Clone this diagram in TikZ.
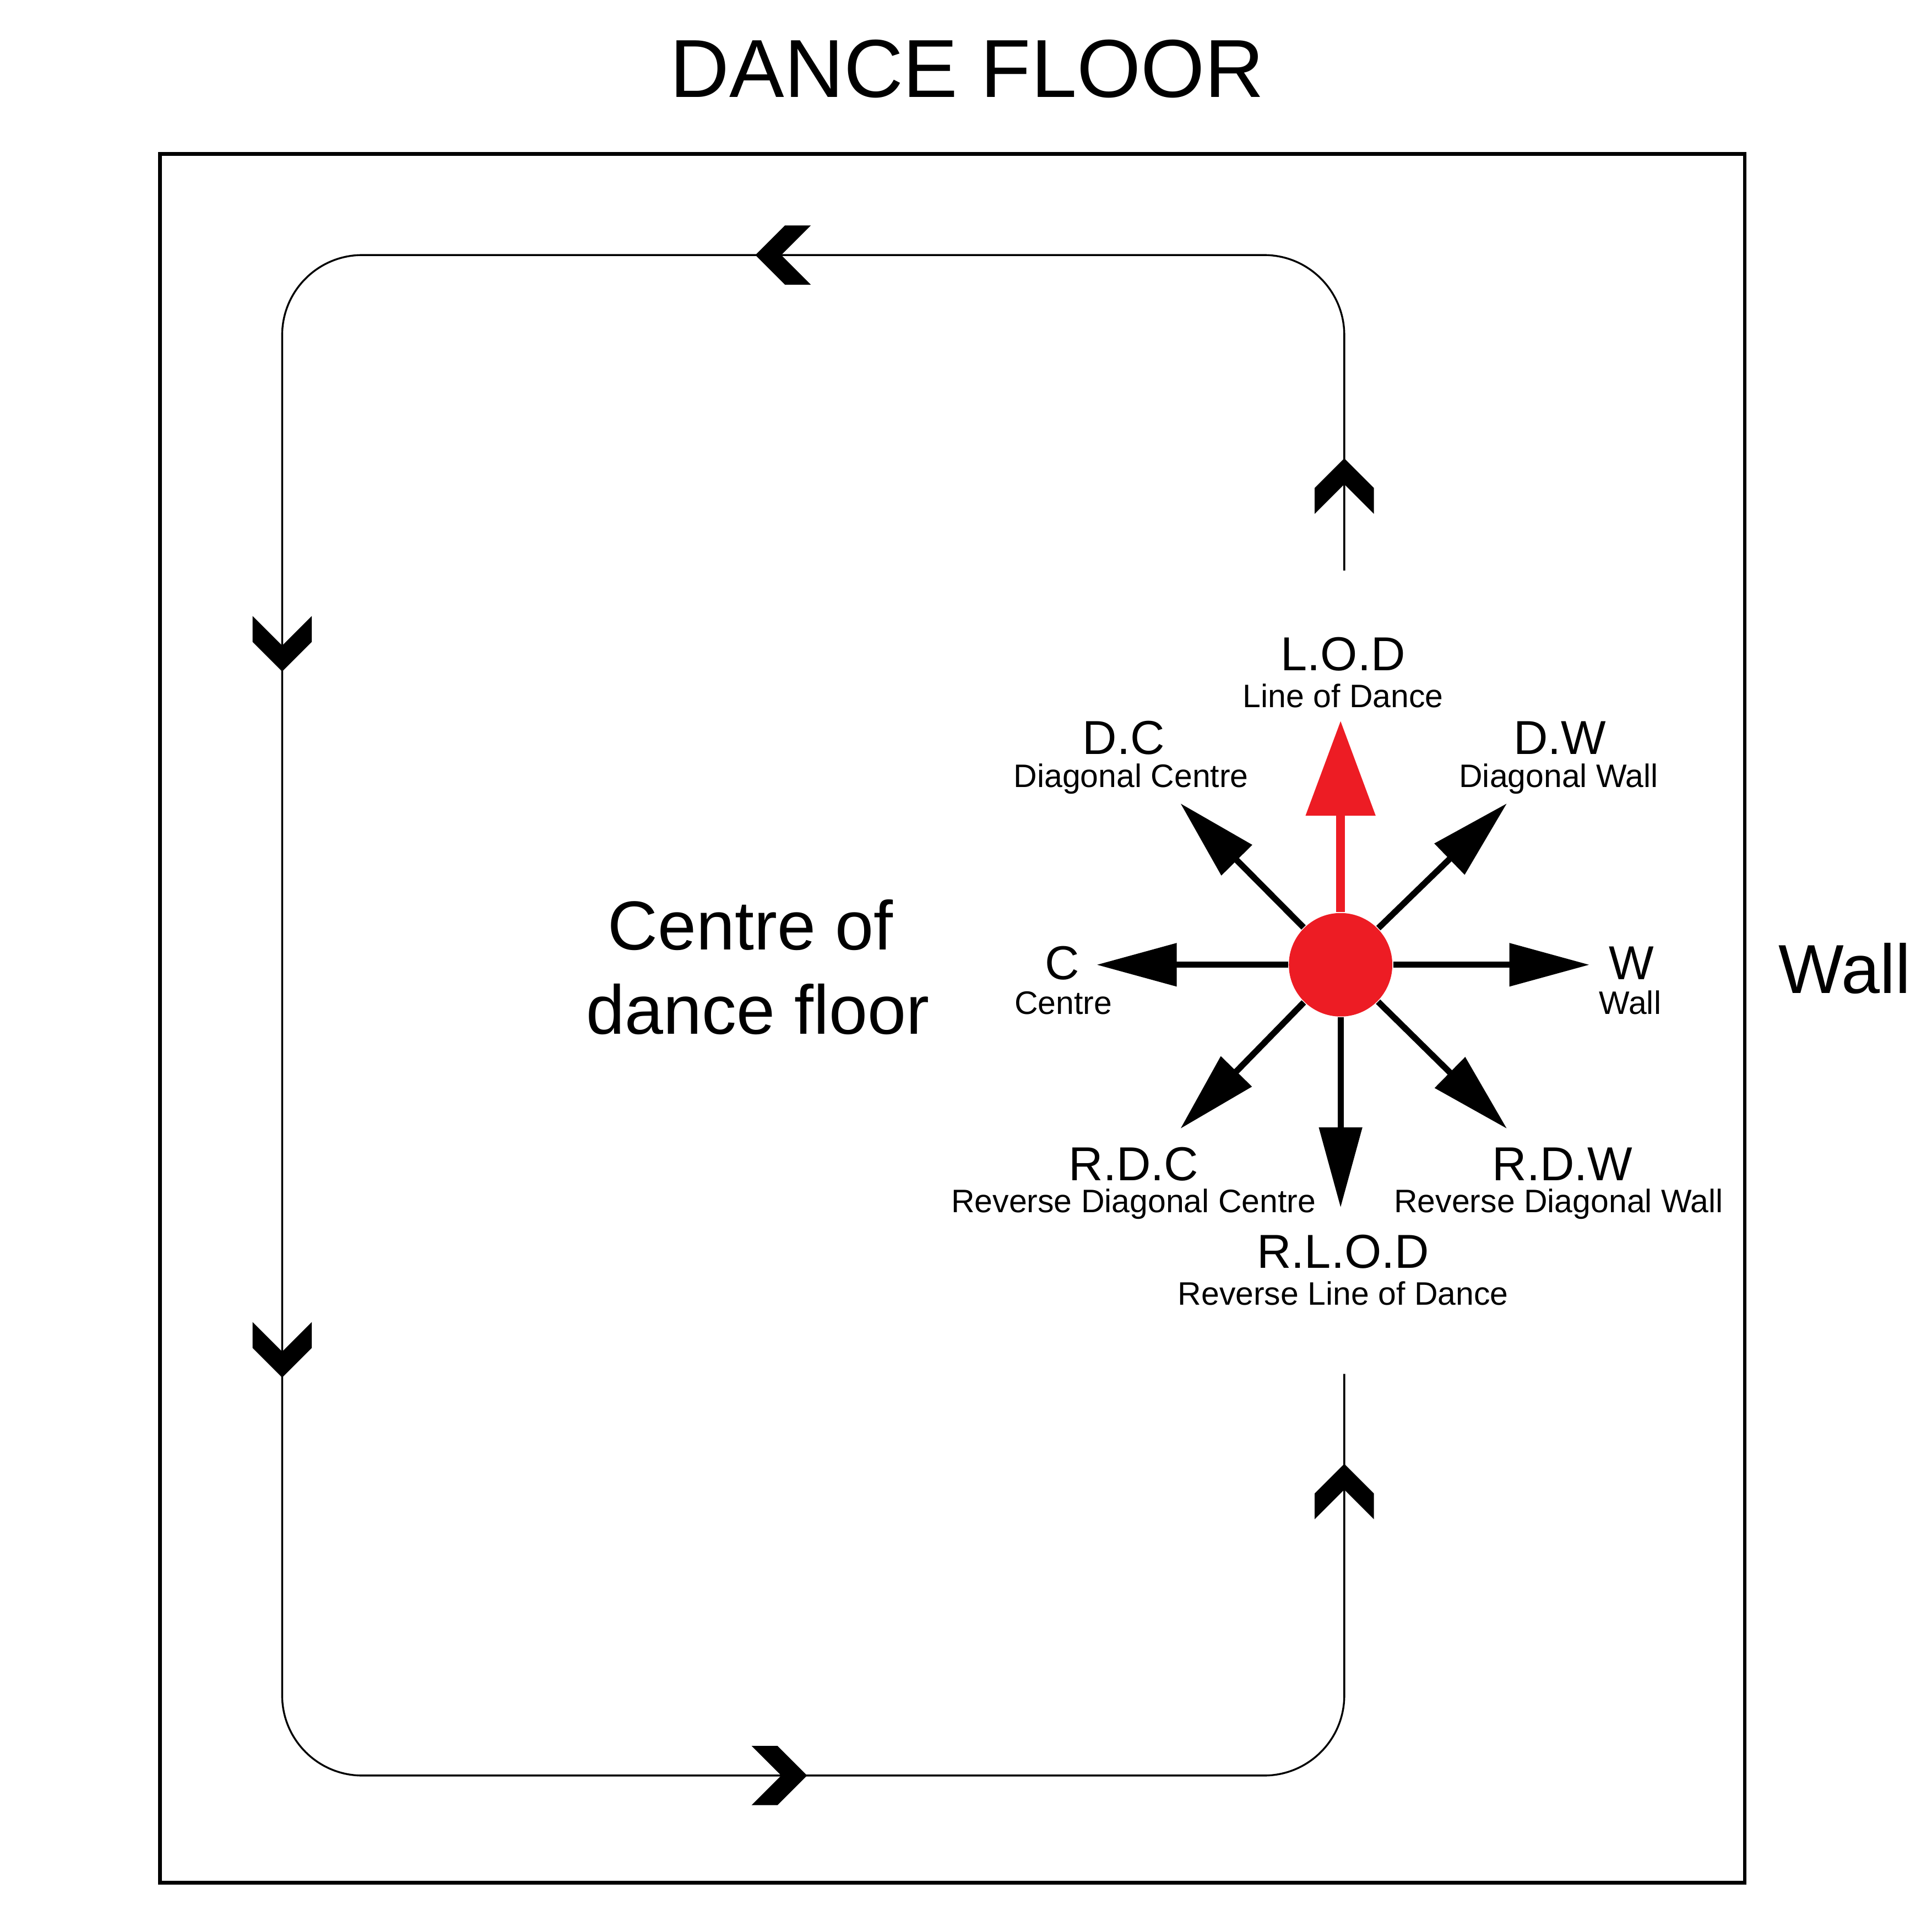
\documentclass[tikz,border=0pt]{standalone}
\usepackage{fontspec}
\setmainfont{Liberation Sans}
\usetikzlibrary{arrows.meta}

\definecolor{lodred}{HTML}{ED1C24}

\tikzset{
  abbr/.style={font=\fontsize{11}{13}\selectfont, anchor=base, inner sep=0pt},
  desc/.style={font=\fontsize{7.5}{9}\selectfont, anchor=base, inner sep=0pt},
  big/.style={font=\fontsize{16}{19}\selectfont, anchor=base, inner sep=0pt},
  dirarrow/.style={line width=0.05cm, -{Triangle[length=6.5mm,width=3.4mm]}},
  chev/.pic={\fill (0,0) -- (-0.24,0.24) -- (-0.24,0.45) -- (0,0.21) -- (0.24,0.45) -- (0.24,0.24) -- cycle;}
}

\begin{document}
\begin{tikzpicture}[]
        \useasboundingbox (0,0) rectangle (15.68,-15.68);

        \node[font=\fontsize{19}{23}\selectfont, anchor=base] (title) at (7.85,-0.79) {DANCE FLOOR};
        \draw[line width=0.03cm] (1.30,-1.25) rectangle (14.16,-15.28);

        % the line of dance round the floor
        \coordinate (topgap) at (10.91,-4.63);
        \coordinate (ne) at (10.91,-2.07);
        \coordinate (nw) at (2.29,-2.07);
        \coordinate (sw) at (2.29,-14.41);
        \coordinate (se) at (10.91,-14.41);
        \coordinate (botgap) at (10.91,-11.15);
        \draw[line width=0.015cm, rounded corners=6.5mm] (topgap) -- (ne) -- (nw) -- (sw) -- (se) -- (botgap);

        \pic[rotate=-90] at (6.13,-2.07) {chev};
        \pic at (2.29,-5.45) {chev};
        \pic at (2.29,-11.18) {chev};
        \pic[rotate=90] at (6.55,-14.41) {chev};
        \pic[rotate=180] at (10.91,-3.72) {chev};
        \pic[rotate=180] at (10.91,-11.88) {chev};

        \node[big] (centre1) at (6.09,-7.71) {Centre of};
        \node[big] (centre2) at (6.15,-8.39) {dance floor};
        \node[big] (wall) at (14.97,-8.06) {Wall};

        % compass of directions
        \node[circle, fill=lodred, minimum size=0.84cm, inner sep=0pt] (hub) at (10.88,-7.83) {};

        \coordinate (tiplod) at (10.88,-5.85);
        \coordinate (tiprlod) at (10.88,-9.80);
        \coordinate (tipc) at (8.90,-7.83);
        \coordinate (tipw) at (12.90,-7.83);
        \coordinate (tipdc) at (9.58,-6.52);
        \coordinate (tipdw) at (12.23,-6.52);
        \coordinate (tiprdc) at (9.58,-9.16);
        \coordinate (tiprdw) at (12.23,-9.16);

        \draw[lodred, line width=0.07cm, -{Triangle[length=7.7mm,width=5.5mm]}] (hub) -- (tiplod);
        \draw[dirarrow] (hub) -- (tiprlod);
        \draw[dirarrow] (hub) -- (tipc);
        \draw[dirarrow] (hub) -- (tipw);
        \draw[dirarrow] (hub) -- (tipdc);
        \draw[dirarrow] (hub) -- (tipdw);
        \draw[dirarrow] (hub) -- (tiprdc);
        \draw[dirarrow] (hub) -- (tiprdw);

        \node[abbr] (lod) at (10.90,-5.44) {L.O.D};
        \node[desc] (lodtxt) at (10.90,-5.74) {Line of Dance};
        \node[abbr] (dc) at (9.12,-6.12) {D.C};
        \node[desc] (dctxt) at (9.18,-6.39) {Diagonal Centre};
        \node[abbr] (dw) at (12.66,-6.12) {D.W};
        \node[desc] (dwtxt) at (12.65,-6.39) {Diagonal Wall};
        \node[abbr] (c) at (8.62,-7.95) {C};
        \node[desc] (ctxt) at (8.63,-8.23) {Centre};
        \node[abbr] (w) at (13.24,-7.95) {W};
        \node[desc] (wtxt) at (13.23,-8.23) {Wall};
        \node[abbr] (rdc) at (9.20,-9.58) {R.D.C};
        \node[desc] (rdctxt) at (9.20,-9.84) {Reverse Diagonal Centre};
        \node[abbr] (rdw) at (12.68,-9.58) {R.D.W};
        \node[desc] (rdwtxt) at (12.65,-9.84) {Reverse Diagonal Wall};
        \node[abbr] (rlod) at (10.90,-10.29) {R.L.O.D};
        \node[desc] (rlodtxt) at (10.90,-10.59) {Reverse Line of Dance};
\end{tikzpicture}
\end{document}
